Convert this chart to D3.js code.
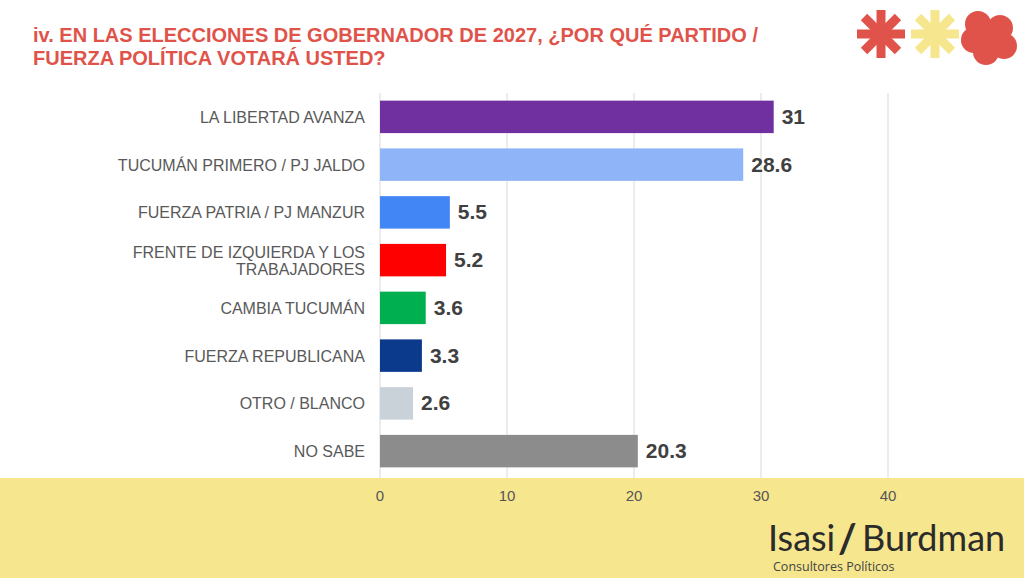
<!DOCTYPE html>
<html><head><meta charset="utf-8">
<script src="https://cdn.jsdelivr.net/npm/d3@7"></script>
<style>body{margin:0;background:#fff}svg{display:block}</style>
</head><body><svg id="c" width="1024" height="578"></svg>
<script>
const categories = [["LA LIBERTAD AVANZA"],["TUCUMÁN PRIMERO / PJ JALDO"],["FUERZA PATRIA / PJ MANZUR"],["FRENTE DE IZQUIERDA Y LOS","TRABAJADORES"],["CAMBIA TUCUMÁN"],["FUERZA REPUBLICANA"],["OTRO / BLANCO"],["NO SABE"]];
const values = [31, 28.6, 5.5, 5.2, 3.6, 3.3, 2.6, 20.3];
const colors = ["#7030a0","#8fb4f8","#4285f4","#ff0000","#00b050","#0b3a8c","#c9d1d9","#8c8c8c"];
const ticks = [0,10,20,30,40];

const svg = d3.select("#c");
const x = d3.scaleLinear().domain([0,40]).range([380,888]);
const y = d3.scaleBand().domain(d3.range(values.length)).range([93,475]).paddingInner(0.32).paddingOuter(0.16);

svg.append("rect").attr("x",0).attr("y",478).attr("width",1024).attr("height",100).attr("fill","#f6e68e");

svg.append("g").selectAll("line").data(ticks).enter().append("line")
  .attr("x1",d=>x(d)).attr("x2",d=>x(d)).attr("y1",93).attr("y2",478)
  .attr("stroke","#d9d9d9");
svg.append("g").selectAll("text").data(ticks).enter().append("text")
  .attr("x",d=>x(d)).attr("y",501).attr("text-anchor","middle")
  .attr("font-family","Liberation Sans, Arial").attr("font-size",15).attr("fill","#555").text(d=>d);

svg.append("g").selectAll("rect").data(values).enter().append("rect")
  .attr("x",x(0)).attr("y",(d,i)=>y(i)).attr("height",y.bandwidth())
  .attr("width",d=>x(d)-x(0)).attr("fill",(d,i)=>colors[i]);

svg.append("g").selectAll("text").data(values).enter().append("text")
  .attr("x",d=>x(d)+8).attr("y",(d,i)=>y(i)+y.bandwidth()/2+7)
  .attr("font-family","Liberation Sans, Arial").attr("font-weight","bold").attr("font-size",21).attr("fill","#404040").text(d=>d);

const lab = svg.append("g").selectAll("text").data(categories).enter().append("text")
  .attr("text-anchor","end").attr("font-family","Liberation Sans, Arial").attr("font-size",16).attr("fill","#595959")
  .attr("y",(d,i)=>y(i)+y.bandwidth()/2+6-(d.length-1)*8.5);
lab.selectAll("tspan").data(d=>d).enter().append("tspan")
  .attr("x",365).attr("dy",(d,j)=>j?17:0).text(d=>d);

svg.append("text").attr("x",33).attr("y",42).attr("font-family","Liberation Sans, Arial").attr("font-weight","bold")
  .attr("font-size",20).attr("fill","#e0534a").text("iv. EN LAS ELECCIONES DE GOBERNADOR DE 2027, ¿POR QUÉ PARTIDO /");
svg.append("text").attr("x",33).attr("y",65).attr("font-family","Liberation Sans, Arial").attr("font-weight","bold")
  .attr("font-size",20).attr("fill","#e0534a").text("FUERZA POLÍTICA VOTARÁ USTED?");

// logos
function star(cx,cy,col){
  const g=svg.append("g").attr("transform",`translate(${cx},${cy})`);
  for(let k=0;k<4;k++) g.append("rect").attr("x",-24).attr("y",-4.5).attr("width",48).attr("height",9)
    .attr("fill",col).attr("transform",`rotate(${k*45})`);
}
star(881,34,"#e0534a"); star(935,34,"#f6e68e");
const cl=svg.append("g").attr("fill","#e0534a");
[[978,24],[1000,28],[1004,46],[986,52],[974,40],[992,38]].forEach(p=>cl.append("circle").attr("cx",p[0]).attr("cy",p[1]).attr("r",13));

svg.append("text").attr("x",768).attr("y",551).attr("font-family","Lato, Open Sans").attr("font-size",36).attr("fill","#2b2b2b").text("Isasi");
svg.append("text").attr("x",838).attr("y",553).attr("font-family","Lato").attr("font-weight","bold").attr("font-size",40).attr("fill","#2b2b2b").text("/");
svg.append("text").attr("x",862).attr("y",551).attr("font-family","Lato, Open Sans").attr("font-size",36).attr("fill","#2b2b2b").text("Burdman");
svg.append("text").attr("x",773).attr("y",571).attr("font-family","Open Sans").attr("font-size",12.5).attr("fill","#444").text("Consultores Políticos");
</script></body></html>
